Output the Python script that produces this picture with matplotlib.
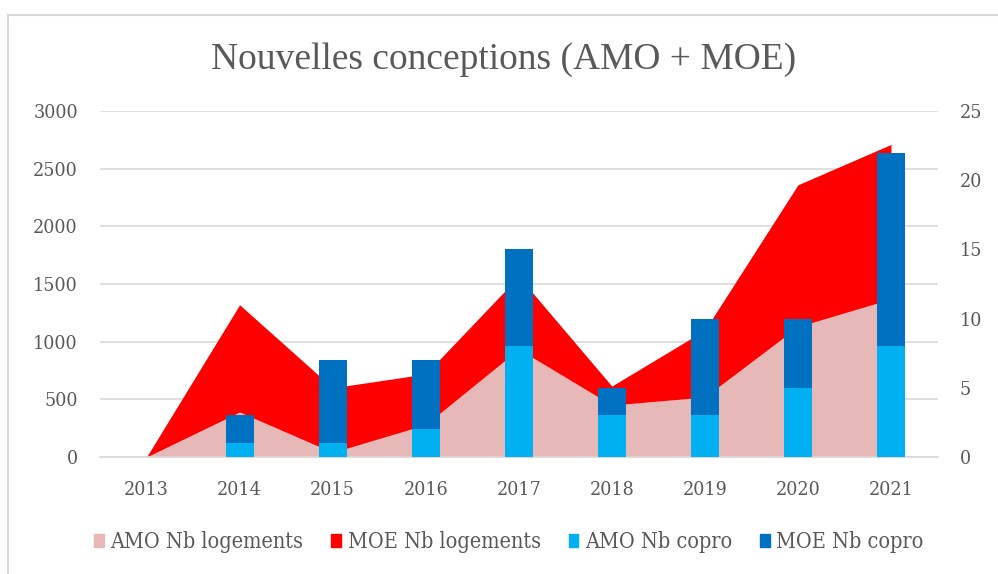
import numpy as np
import matplotlib
matplotlib.use("Agg")
import matplotlib.pyplot as plt
from matplotlib.patches import Patch, Rectangle

years = ["2013", "2014", "2015", "2016", "2017", "2018", "2019", "2020", "2021"]
amo_logements = [0, 390, 40, 280, 935, 450, 520, 1130, 1370]
moe_logements = [0, 930, 560, 440, 630, 165, 580, 1230, 1340]
amo_copro = [0, 1, 1, 2, 8, 3, 3, 5, 8]
moe_copro = [0, 2, 6, 5, 7, 2, 7, 5, 14]

PINK = "#E6B9B8"
RED = "#FF0000"
LIGHT_BLUE = "#00B0F0"
DARK_BLUE = "#0070C0"
TEXT = "#595959"
GRID = "#D9D9D9"

plt.rcParams["font.family"] = ["DejaVu Serif"]
plt.rcParams["font.stretch"] = "condensed"

fig = plt.figure(figsize=(9.98, 5.74), dpi=100)
ax = fig.add_axes([100 / 998, 1 - 457 / 574, 837.5 / 998, 346 / 574])

x = np.arange(len(years))
amo_l = np.array(amo_logements)
moe_l = np.array(moe_logements)

# stacked areas (primary axis)
ax.fill_between(x, 0, amo_l, color=PINK, lw=0)
ax.fill_between(x, amo_l, amo_l + moe_l, color=RED, lw=0)

ax.set_xlim(-0.5, len(years) - 0.5)
ax.set_ylim(0, 3000)
ax.set_yticks(np.arange(0, 3001, 500))
ax.set_xticks(x)
ax.set_xticklabels(years)
ax.grid(axis="y", color=GRID, lw=1.2)
ax.set_axisbelow(True)
for s in ["top", "right", "left"]:
    ax.spines[s].set_visible(False)
ax.spines["bottom"].set_color(GRID)
ax.spines["bottom"].set_linewidth(1.2)
ax.tick_params(axis="both", length=0, colors=TEXT, labelsize=14)
ax.tick_params(axis="y", pad=16)
ax.tick_params(axis="x", pad=17)

# stacked bars (secondary axis)
ax2 = ax.twinx()
ax2.bar(x, amo_copro, width=0.3, color=LIGHT_BLUE)
ax2.bar(x, moe_copro, width=0.3, bottom=amo_copro, color=DARK_BLUE)
ax2.set_ylim(0, 25)
ax2.set_yticks(np.arange(0, 26, 5))
for s in ["top", "right", "left", "bottom"]:
    ax2.spines[s].set_visible(False)
ax2.tick_params(axis="y", length=0, colors=TEXT, labelsize=14, pad=16)

fig.text(0.505, 1 - 60 / 574, "Nouvelles conceptions (AMO + MOE)",
         ha="center", va="center", fontsize=27, color=TEXT,
         family="Liberation Serif")

handles = [Patch(color=PINK), Patch(color=RED),
           Patch(color=LIGHT_BLUE), Patch(color=DARK_BLUE)]
labels = ["AMO Nb logements", "MOE Nb logements", "AMO Nb copro", "MOE Nb copro"]
leg = fig.legend(handles, labels, loc="center", ncol=4, frameon=False,
                 bbox_to_anchor=(0.51, 1 - 542 / 574),
                 handlelength=0.45, handleheight=0.6, handletextpad=0.3,
                 columnspacing=1.3, fontsize=15.5)
for t in leg.get_texts():
    t.set_color(TEXT)

# chart border
fig.patches.append(Rectangle((8 / 998, -0.1), 1.1, 1 - 15 / 574 + 0.1,
                             transform=fig.transFigure, fill=False,
                             edgecolor=GRID, lw=1.5))

fig.savefig("out.png", dpi=100)
